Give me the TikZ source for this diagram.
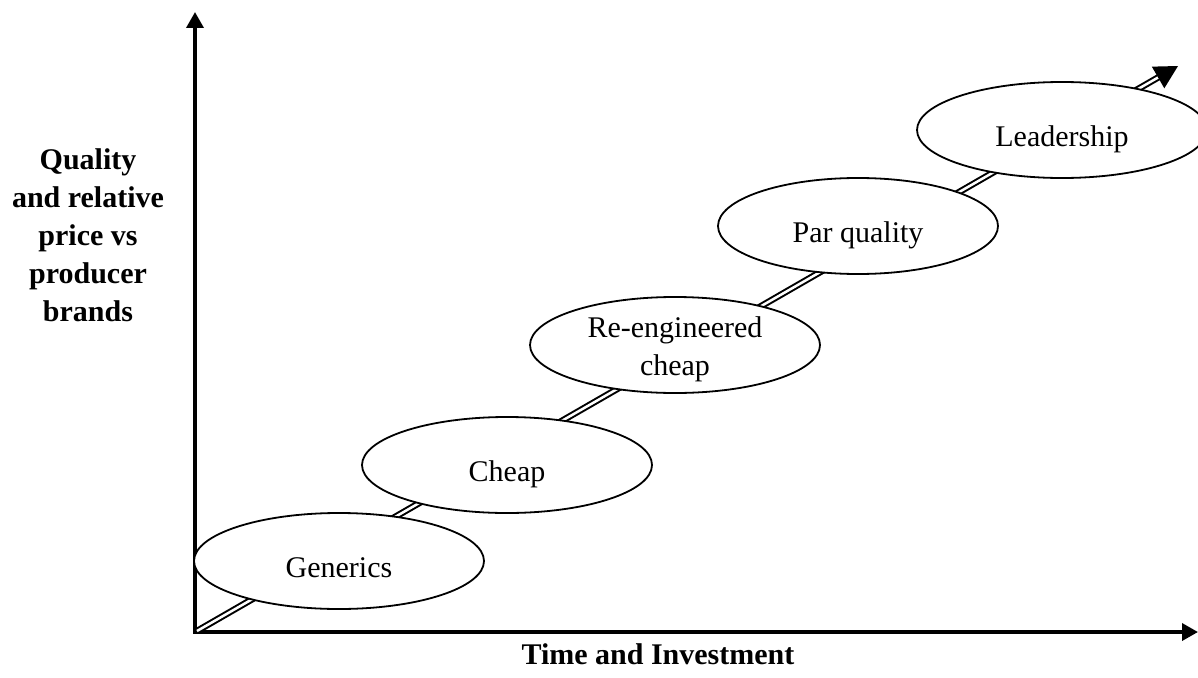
\documentclass[tikz,border=0pt]{standalone}
\usepackage{fontspec}
\setmainfont{Liberation Serif}
\usetikzlibrary{shapes.geometric,arrows.meta,calc}
\begin{document}
\begin{tikzpicture}[x=1pt,y=-1pt,
  stage/.style={ellipse, draw, line width=1.8pt, fill=white, inner sep=0pt,
    minimum width=290pt, minimum height=96pt, font=\fontsize{30}{38}\selectfont,
    text height=32pt, text depth=0pt, align=center},
  axis/.style={line width=3.5pt, {Triangle[length=16pt,width=17pt]}-{Triangle[length=16pt,width=17pt]}},
  axlabel/.style={font=\bfseries\fontsize{30}{38}\selectfont, align=center, inner sep=0pt},
  growth/.style={double, line width=2pt, double distance=2.5pt}
]
\useasboundingbox (0,0) rectangle (1198,677);
\coordinate (ytip) at (195,12);
\coordinate (corner) at (195,632);
\coordinate (xtip) at (1198,632);
\draw[axis] (ytip) -- (corner) -- (xtip);

\coordinate (O) at (197,631);
\coordinate (T) at (1178,66);
\coordinate (B) at ($(T)!23pt!(O)$);
\draw[growth] (O) -- ($(T)!19pt!(O)$);
\fill (T) -- ($(B)!12.5pt!90:(T)$) -- ($(B)!12.5pt!-90:(T)$) -- cycle;

\node[stage] (gen) at (339,561) {Generics};
\node[stage] (chp) at (507,465) {Cheap};
\node[stage, text height=60pt, text depth=0pt] (ree) at (675,345) {Re-engineered\\cheap};
\node[stage, minimum width=280pt] (par) at (858,226) {Par quality};
\node[stage] (lead) at (1062,130) {Leadership};

\node[axlabel, anchor=north] (ylab) at (88,148) {Quality\\and relative\\price vs\\producer\\brands};
\node[axlabel, anchor=base] (xlab) at (658,664) {Time and Investment};
\end{tikzpicture}
\end{document}
